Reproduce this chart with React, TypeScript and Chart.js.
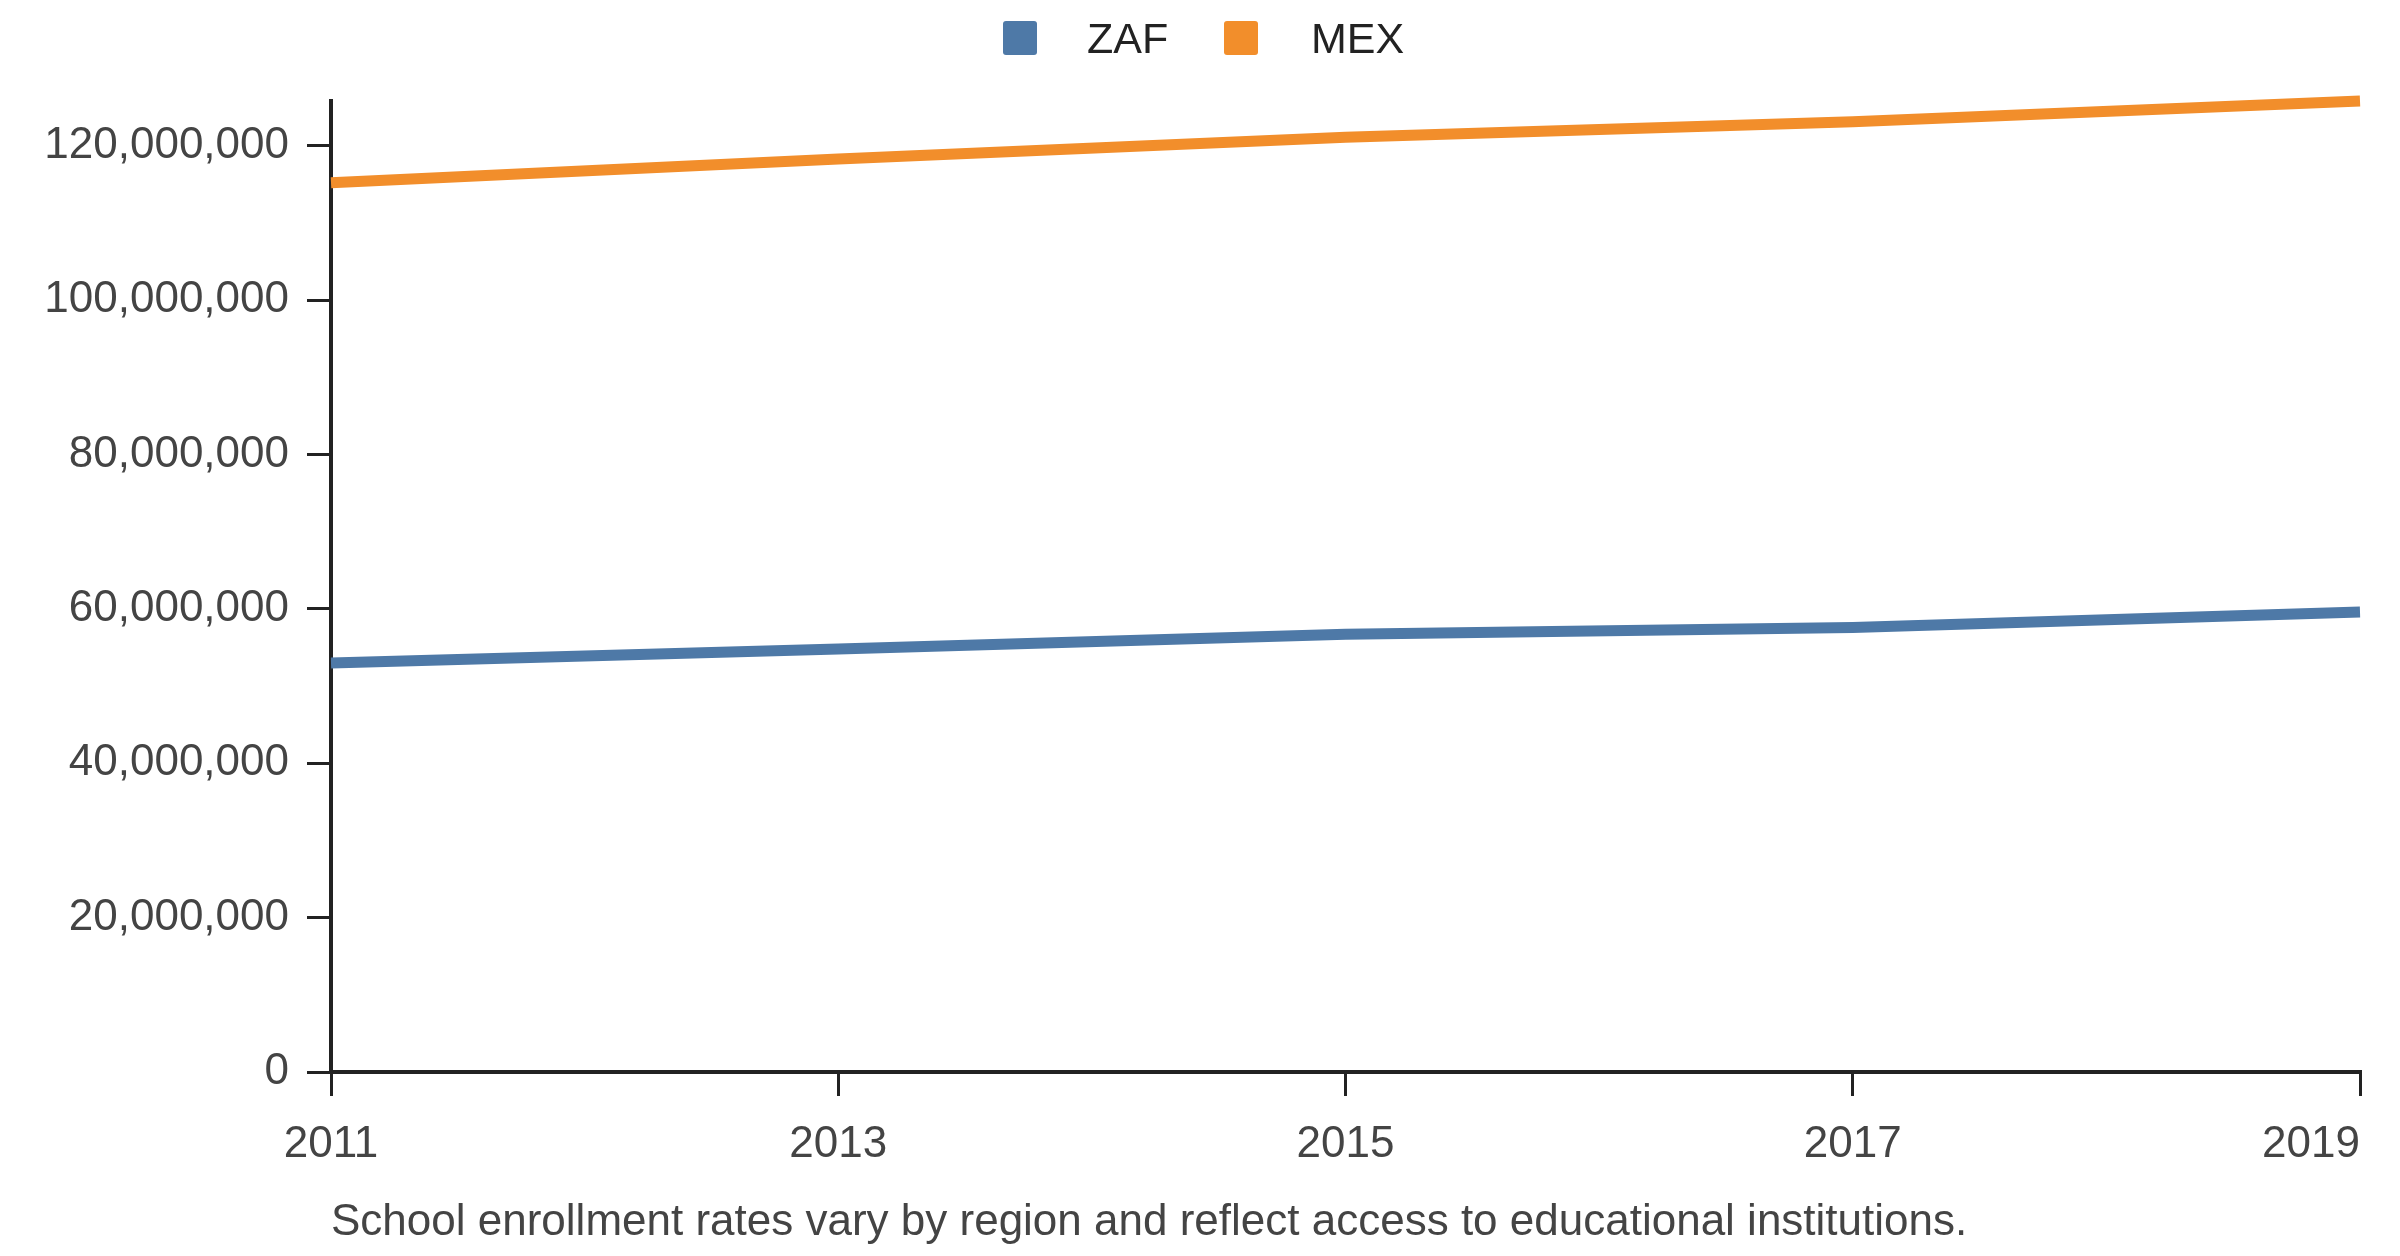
import { useEffect, useRef } from "react";
import { Chart, registerables } from "chart.js";

Chart.register(...registerables);

// datos
const years: number[] = [2011, 2013, 2015, 2017, 2019];
const zafValues: number[] = [53.0e6, 54.8e6, 56.7e6, 57.6e6, 59.6e6];
const mexValues: number[] = [115.2e6, 118.3e6, 121.1e6, 123.1e6, 125.8e6];
const yTicks: number[] = [0, 20e6, 40e6, 60e6, 80e6, 100e6, 120e6];
const seriesNames: string[] = ["ZAF", "MEX"];
const seriesColors: string[] = ["#4e79a7", "#f28e2b"];
const caption = "School enrollment rates vary by region and reflect access to educational institutions.";

const FONT = "'Liberation Sans', Arial, sans-serif";
const AXIS = "#222";
const TEXT = "#444";

export default function App() {
    const canvasRef = useRef<HTMLCanvasElement | null>(null);

    useEffect(() => {
        const ctx = canvasRef.current?.getContext("2d");
        if (!ctx) return;

        // etiquetas del eje x dibujadas a mano para que 2019 no se salga del lienzo
        const xLabels = {
            id: "xLabels",
            afterDraw(chart: any) {
                const scale = chart.scales.x;
                const c = chart.ctx;
                c.save();
                c.font = `44px ${FONT}`;
                c.fillStyle = TEXT;
                c.textBaseline = "alphabetic";
                scale.ticks.forEach((t: any) => {
                    const px = scale.getPixelForValue(t.value);
                    const label = String(t.value);
                    const w = c.measureText(label).width;
                    c.textAlign = px + w / 2 > chart.width ? "right" : "center";
                    c.fillText(label, px, 1157);
                });
                c.restore();
            },
        };

        const chart = new Chart(ctx, {
            type: "line",
            data: {
                datasets: [zafValues, mexValues].map((vals, i) => ({
                    label: seriesNames[i],
                    data: years.map((y, j) => ({ x: y, y: vals[j] })),
                    borderColor: seriesColors[i],
                    backgroundColor: seriesColors[i],
                    borderWidth: 11,
                    pointRadius: 0,
                    tension: 0,
                    fill: false,
                    clip: 8,
                })),
            },
            options: {
                responsive: false,
                animation: false,
                layout: { padding: { top: 101, right: 40, left: 0, bottom: 0 } },
                plugins: {
                    legend: { display: false },
                    tooltip: { enabled: false },
                },
                scales: {
                    x: {
                        type: "linear",
                        min: years[0],
                        max: years[years.length - 1],
                        ticks: { stepSize: 2, display: false },
                        grid: { drawOnChartArea: false, drawTicks: true, tickLength: 24, color: AXIS, lineWidth: 3 },
                        border: { display: true, color: AXIS, width: 4 },
                        afterFit: (scale: any) => {
                            scale.height = 184;
                        },
                    },
                    y: {
                        type: "linear",
                        min: 0,
                        max: Math.max(...zafValues, ...mexValues),
                        afterBuildTicks: (scale: any) => {
                            scale.ticks = yTicks.map((v) => ({ value: v }));
                        },
                        ticks: {
                            color: TEXT,
                            padding: 18,
                            font: { family: FONT, size: 44 },
                            callback: (v: any) => Number(v).toLocaleString("en-US"),
                        },
                        grid: { drawOnChartArea: false, drawTicks: true, tickLength: 24, color: AXIS, lineWidth: 3 },
                        border: { display: true, color: AXIS, width: 4 },
                        afterFit: (scale: any) => {
                            scale.width = 331;
                        },
                    },
                },
            },
            plugins: [xLabels],
        });

        return () => {
            chart.destroy();
        };
    }, []);

    return (
        <div style={{ position: "absolute", left: 0, top: 0, width: 2400, height: 1256, background: "#fff", fontFamily: FONT }}>
            <canvas ref={canvasRef} width={2400} height={1256} style={{ position: "absolute", left: 0, top: 0 }} />

            {/* leyenda */}
            {seriesNames.map((name, i) => (
                <div key={name}>
                    <div
                        style={{
                            position: "absolute",
                            left: i === 0 ? 1003 : 1224,
                            top: 21,
                            width: 34,
                            height: 34,
                            borderRadius: 3,
                            background: seriesColors[i],
                        }}
                    />
                    <div
                        style={{
                            position: "absolute",
                            left: i === 0 ? 1087 : 1311,
                            top: 17,
                            fontSize: 43,
                            lineHeight: "43px",
                            color: AXIS,
                            whiteSpace: "nowrap",
                        }}
                    >
                        {name}
                    </div>
                </div>
            ))}

            {/* nota al pie */}
            <div
                style={{
                    position: "absolute",
                    left: 331,
                    top: 1198,
                    fontSize: 44,
                    lineHeight: "44px",
                    color: TEXT,
                    whiteSpace: "nowrap",
                }}
            >
                {caption}
            </div>
        </div>
    );
}
